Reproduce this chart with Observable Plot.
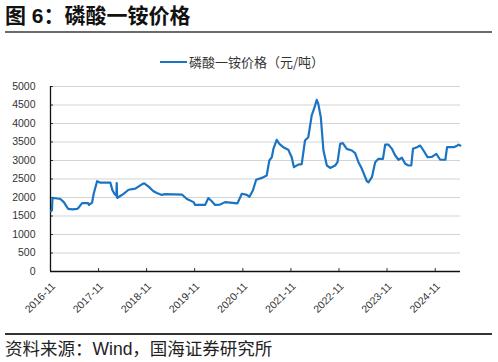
<!DOCTYPE html>
<html><head><meta charset="utf-8">
<script src="https://cdn.jsdelivr.net/npm/d3@7"></script>
<script src="https://cdn.jsdelivr.net/npm/@observablehq/plot@0.6"></script>
<style>
html,body{margin:0;padding:0;background:#fff;}
#wrap{position:relative;width:498px;height:362px;overflow:hidden;font-family:"Liberation Sans","Noto Sans CJK SC",sans-serif;}
#title{position:absolute;left:5px;top:2px;font-size:21px;font-weight:bold;line-height:28px;color:#111;font-family:"Liberation Sans","Noto Sans CJK SC",sans-serif;white-space:nowrap;}
#rule1{position:absolute;left:5px;top:31px;width:487px;height:2px;background:#6b6b6b;}
#legend{position:absolute;left:160px;top:53px;font-size:13px;line-height:18px;color:#333;font-family:"Noto Sans CJK SC",sans-serif;white-space:nowrap;}
#legend .sw{display:inline-block;width:27px;height:2px;background:#1b74c2;vertical-align:middle;margin-right:2px;position:relative;top:-1px;}
#chart{position:absolute;left:0;top:70px;}
#rule2{position:absolute;left:5px;top:333px;width:487px;height:1.5px;background:#333;}
#source{position:absolute;left:5px;top:337px;font-size:17.5px;line-height:24px;color:#222;font-family:"Liberation Sans","Noto Sans CJK SC",sans-serif;white-space:nowrap;}
</style></head>
<body><div id="wrap">
<div id="title">图 6：磷酸一铵价格</div>
<div id="rule1"></div>
<div id="legend"><span class="sw"></span>磷酸一铵价格（元/吨）</div>
<div id="chart"></div>
<div id="rule2"></div>
<div id="source">资料来源：Wind，国海证券研究所</div>
</div>
<script>
const seriesName = "磷酸一铵价格（元/吨）";
const dates = ["2016-11-05","2016-11-12","2016-11-16","2016-12-08","2017-01-15","2017-02-10","2017-03-15","2017-04-17","2017-05-22","2017-06-01","2017-06-29","2017-08-13","2017-08-20","2017-09-13","2017-09-25","2017-10-21","2017-11-15","2018-01-30","2018-02-14","2018-03-01","2018-03-16","2018-03-19","2018-03-22","2018-03-25","2018-04-06","2018-05-10","2018-06-17","2018-08-07","2018-10-02","2018-10-14","2018-11-14","2018-12-23","2019-01-18","2019-02-25","2019-03-22","2019-07-27","2019-09-03","2019-10-24","2019-11-04","2020-01-19","2020-02-13","2020-03-10","2020-04-04","2020-05-12","2020-06-19","2020-07-27","2020-09-21","2020-10-24","2020-12-01","2020-12-21","2021-01-16","2021-02-10","2021-03-25","2021-05-01","2021-05-21","2021-06-09","2021-06-21","2021-07-16","2021-08-05","2021-09-04","2021-10-12","2021-11-07","2021-11-24","2021-12-27","2022-01-22","2022-02-16","2022-03-13","2022-04-08","2022-04-26","2022-05-16","2022-05-28","2022-06-16","2022-07-06","2022-08-01","2022-08-26","2022-10-03","2022-10-21","2022-11-10","2022-11-30","2022-12-30","2023-02-07","2023-03-04","2023-03-29","2023-04-24","2023-06-01","2023-06-13","2023-07-09","2023-08-03","2023-08-28","2023-10-01","2023-10-18","2023-11-12","2023-12-08","2024-01-02","2024-01-27","2024-02-22","2024-03-18","2024-04-12","2024-05-03","2024-05-16","2024-06-15","2024-07-10","2024-08-04","2024-09-04","2024-10-07","2024-11-09","2024-12-09","2025-01-17","2025-01-30","2025-03-21","2025-04-16","2025-04-28","2025-05-11"];
const prices = [1630,1650,1990,1980,1960,1875,1695,1680,1690,1720,1850,1850,1800,1860,2100,2440,2400,2400,2200,2100,2050,2390,2010,1990,2020,2100,2210,2240,2370,2380,2300,2170,2120,2070,2090,2080,1960,1875,1800,1800,1985,1900,1800,1810,1875,1860,1840,2100,2070,2020,2190,2480,2530,2595,3000,3090,3315,3560,3450,3360,3290,3090,2820,2890,2900,3540,3630,4220,4400,4640,4530,4170,3270,2865,2800,2865,2955,3450,3470,3315,3270,3200,2955,2775,2440,2410,2550,2955,3045,3045,3430,3430,3315,3135,3020,3075,2910,2865,2865,3315,3360,3405,3270,3090,3100,3180,3020,3020,3360,3360,3400,3430,3400];
const yTicks = [0,500,1000,1500,2000,2500,3000,3500,4000,4500,5000];
const xTickLabels = ["2016-11","2017-11","2018-11","2019-11","2020-11","2021-11","2022-11","2023-11","2024-11"];
const xStart = "2016-11-01", xEnd = "2025-05-12";

const data = dates.map((d,i)=>({date:new Date(d), value:prices[i]}));
const xTicks = xTickLabels.map(s=>new Date(s+"-01"));
const fmt = d3.utcFormat("%Y-%m");

const chart = Plot.plot({
  width:498, height:255,
  marginTop:16, marginBottom:54, marginLeft:50, marginRight:38,
  style:{fontFamily:"Liberation Sans, Arial, sans-serif", fontSize:"10.5px", color:"#333", background:"transparent"},
  x:{type:"utc", domain:[new Date(xStart), new Date(xEnd)]},
  y:{domain:[0,5000]},
  marks:[
    Plot.gridY(yTicks, {stroke:"#d4d4d4", strokeOpacity:1, strokeWidth:1.2}),
    Plot.axisY(yTicks, {tickSize:0, tickPadding:15, tickFormat:d=>String(d), fill:"#333", label:null}),
    Plot.axisY(yTicks, {tickSize:3, dx:3, tickFormat:()=>"", stroke:"#333", label:null}),
    Plot.axisX(xTicks, {tickSize:0, tickRotate:-45, tickPadding:13, dx:3, tickFormat:fmt, fill:"#333", label:null}),
    Plot.axisX(xTicks, {tickSize:3, dy:-3, tickFormat:()=>"", stroke:"#333", label:null}),
    Plot.ruleX([new Date(xStart)], {stroke:"#111", strokeWidth:1.3}),
    Plot.ruleY([0], {stroke:"#111", strokeWidth:1.3}),
    Plot.line(data, {x:"date", y:"value", stroke:"#1b74c2", strokeWidth:2.2, curve:"linear"})
  ]
});
document.getElementById("chart").appendChild(chart);
</script>
</body></html>
